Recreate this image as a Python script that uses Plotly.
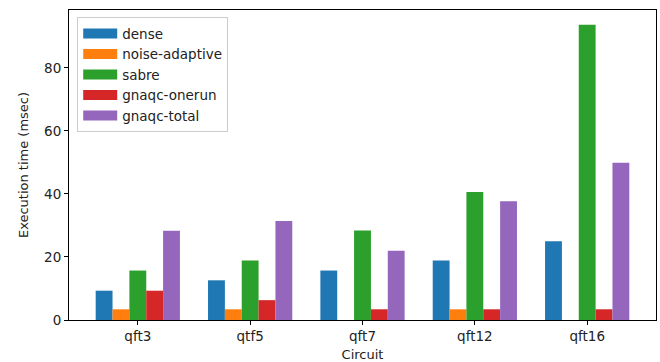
import plotly.graph_objects as go

circuits = ["qft3", "qtf5", "qft7", "qft12", "qft16"]
dense = [9.3, 12.6, 15.7, 18.9, 25.0]
noise_adaptive = [3.4, 3.4, 0, 3.4, 0]
sabre = [15.7, 18.9, 28.4, 40.6, 93.7]
gnaqc_onerun = [9.3, 6.3, 3.4, 3.4, 3.4]
gnaqc_total = [28.3, 31.4, 22.0, 37.7, 49.9]

series = [
    ("dense", dense, "#1f77b4"),
    ("noise-adaptive", noise_adaptive, "#ff7f0e"),
    ("sabre", sabre, "#2ca02c"),
    ("gnaqc-onerun", gnaqc_onerun, "#d62728"),
    ("gnaqc-total", gnaqc_total, "#9467bd"),
]

fig = go.Figure()
for name, vals, color in series:
    fig.add_trace(go.Bar(
        x=list(range(len(circuits))), y=vals, name=name,
        marker=dict(color=color, line=dict(width=0)),
        showlegend=False, legendgroup=name,
    ))
# legend entries drawn as wide flat patches
for name, vals, color in series:
    fig.add_trace(go.Scatter(
        x=[None], y=[None], mode="lines", name=name, legendgroup=name,
        line=dict(color=color, width=10),
    ))

font = "DejaVu Sans, sans-serif"
fig.update_layout(
    width=660, height=362,
    margin=dict(l=69, r=4, t=10, b=42),
    barmode="group", bargap=0.25, bargroupgap=0,
    plot_bgcolor="white", paper_bgcolor="white",
    font=dict(family=font, size=13, color="#222"),
    legend=dict(
        x=0.014, y=0.977, xanchor="left", yanchor="top",
        bgcolor="rgba(255,255,255,0.9)", bordercolor="#cccccc", borderwidth=1,
        font=dict(size=13.5), itemwidth=34, tracegroupgap=0,
    ),
    showlegend=True,
)
fig.update_xaxes(
    range=[-0.6125, 4.6125],
    tickmode="array", tickvals=list(range(len(circuits))), ticktext=circuits,
    showline=True, linecolor="black", linewidth=1, mirror=True,
    ticks="outside", ticklen=4, tickcolor="black",
    showgrid=False, zeroline=False,
    title=dict(text="Circuit", font=dict(size=13), standoff=6),
    tickfont=dict(size=13.5),
)
fig.update_yaxes(
    range=[0, 98.4],
    tickvals=[0, 20, 40, 60, 80],
    showline=True, linecolor="black", linewidth=1, mirror=True,
    ticks="outside", ticklen=4, tickcolor="black",
    showgrid=False, zeroline=False,
    title=dict(text="Execution time (msec)", font=dict(size=13), standoff=12),
    tickfont=dict(size=13.5),
)

fig.write_html("out.html")
